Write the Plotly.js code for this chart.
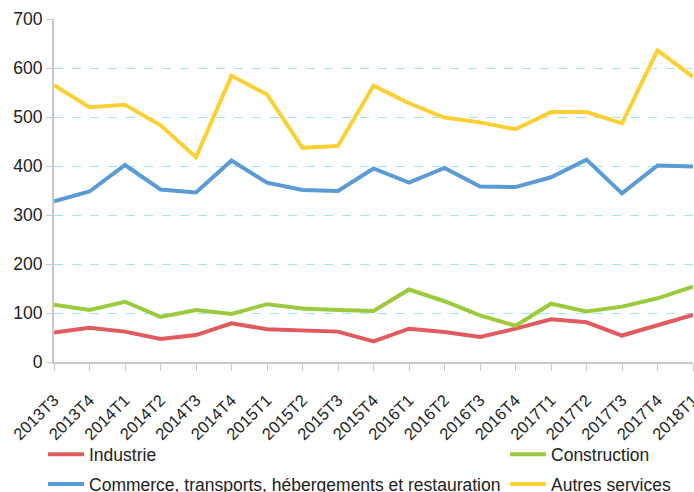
<!DOCTYPE html>
<html><head><meta charset="utf-8">
<script src="https://cdn.plot.ly/plotly-3.0.1.min.js"></script>
<style>body{margin:0;padding:0;}#chart{width:694px;height:492px;}</style>
</head><body><div id="chart"></div>
<script>
const categories = ["2013T3","2013T4","2014T1","2014T2","2014T3","2014T4","2015T1","2015T2","2015T3","2015T4","2016T1","2016T2","2016T3","2016T4","2017T1","2017T2","2017T3","2017T4","2018T1"];
const industrie = [60,70,62,47,55,79,67,65,62,42,68,61,51,68,87,81,54,75,96];
const construction = [117,106,123,92,106,98,118,109,106,104,148,124,95,74,119,103,113,130,154];
const commerce = [328,348,402,352,346,411,366,351,349,395,366,396,358,357,377,413,344,401,399];
const autres = [565,520,525,483,418,584,546,437,441,564,528,499,489,475,510,510,487,636,582];
const names = ["Industrie","Construction","Commerce, transports, hébergements et restauration","Autres services"];
const colors = ["#e15a5e","#9bcb3c","#5b9bd5","#fcd033"];

const idx = categories.map((_, i) => i);
const series = [industrie, construction, commerce, autres];
const legendOf = ["legend","legend2","legend","legend2"];
const traces = series.map((s, k) => ({
  x: idx, y: s, type: "scatter", mode: "lines", name: names[k],
  line: {color: colors[k], width: 4}, legend: legendOf[k], legendgroup: "g" + k
}));

const fam = "Liberation Sans, Arial, sans-serif";
const legFont = {family: fam, size: 17.5, color: "#222"};
const layout = {
  width: 694, height: 492,
  margin: {l: 54, r: 1, t: 19, b: 130, autoexpand: false},
  paper_bgcolor: "#fff", plot_bgcolor: "#fff",
  font: {family: fam, size: 17, color: "#222"},
  showlegend: true,
  xaxis: {
    range: [0, 18], tickmode: "array", tickvals: idx, ticktext: categories,
    tickangle: -45, showgrid: false, zeroline: false, automargin: false,
    showline: true, linecolor: "#c8c8c8", linewidth: 2,
    ticks: "outside", ticklen: 7, tickcolor: "#c8c8c8", tickwidth: 1,
    ticklabelstandoff: 13, ticklabeloverflow: "allow",
    tickfont: {family: fam, size: 16.5, color: "#222"}
  },
  yaxis: {
    range: [0, 700], dtick: 100, showgrid: true, gridcolor: "#9ee9f5",
    griddash: "dash", gridwidth: 1, zeroline: false, automargin: false,
    showline: true, linecolor: "#c8c8c8", linewidth: 2,
    ticks: "outside", ticklen: 6, tickcolor: "#c8c8c8",
    tickfont: {family: fam, size: 17.5, color: "#222"}
  },
  legend: {x: -0.0172, xanchor: "left", y: -0.217, yanchor: "top", orientation: "v",
    bgcolor: "rgba(0,0,0,0)", font: legFont, traceorder: "grouped", tracegroupgap: 4, itemwidth: 36},
  legend2: {x: 0.7058, xanchor: "left", y: -0.217, yanchor: "top", orientation: "v",
    bgcolor: "rgba(0,0,0,0)", font: legFont, traceorder: "grouped", tracegroupgap: 4, itemwidth: 36}
};
Plotly.newPlot("chart", traces, layout, {displayModeBar: false, staticPlot: true});
</script></body></html>
